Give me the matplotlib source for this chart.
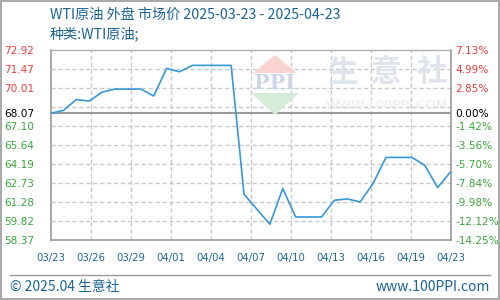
import numpy as np
import matplotlib
matplotlib.use("Agg")
import matplotlib.pyplot as plt
from matplotlib.patches import Rectangle, Polygon
from matplotlib.lines import Line2D

# Daily WTI prices, 2025-03-23 .. 2025-04-23 (one value per calendar day)
prices = [68.07, 68.29, 69.12, 69.00, 69.69, 69.92, 69.92, 69.92, 69.39, 71.50,
          71.24, 71.73, 71.73, 71.73, 71.73, 61.89, 60.74, 59.59, 62.32, 60.15,
          60.15, 60.15, 61.43, 61.53, 61.30, 62.71, 64.70, 64.70, 64.70, 64.11,
          62.40, 63.59]
base_price = 68.07
x_labels = ["03/23", "03/26", "03/29", "04/01", "04/04", "04/07",
            "04/10", "04/13", "04/16", "04/19", "04/23"]
y_ticks = [72.92, 71.47, 70.01, 68.07, 67.10, 65.64, 64.19, 62.73, 61.28, 59.82, 58.37]
y_labels = ["72.92", "71.47", "70.01", "68.07", "67.10", "65.64",
            "64.19", "62.73", "61.28", "59.82", "58.37"]
pct_labels = ["7.13%", "4.99%", "2.85%", "0.00%", "-1.42%", "-3.56%",
              "-5.70%", "-7.84%", "-9.98%", "-12.12%", "-14.25%"]
y_min, y_max = 58.37, 72.92

title = "WTI原油 外盘 市场价 2025-03-23 - 2025-04-23"
subtitle = "种类:WTI原油;"

RED, GREEN, BLACK = "#f03a3a", "#3aa63a", "#000000"
BLUE_TXT = "#1c6496"
LINE = "#3797d8"
GRID = "#c8c8c8"
FRAME = "#9a9a9a"
CJK = ["Noto Sans CJK SC", "DejaVu Sans"]

W, H = 500, 300
fig = plt.figure(figsize=(5, 3), dpi=100)
fig.patch.set_facecolor("white")

left, right, top, bottom = 50.5, 450.5, 49.8, 240.3
ax = fig.add_axes([left / W, 1 - bottom / H, (right - left) / W, (bottom - top) / H])
ax.set_facecolor("none")

n = len(prices)
days = np.arange(n)
ax.set_xlim(0, n - 1)
ax.set_ylim(y_min, y_max)

# dashed grid: ten equal divisions each way
for gy in np.linspace(y_min, y_max, 11)[1:-1]:
    ax.axhline(gy, color=GRID, lw=1, ls=(0, (3, 2)), zorder=1)
xt = np.linspace(0, n - 1, len(x_labels))
for gx in xt[1:-1]:
    ax.axvline(gx, color=GRID, lw=1, ls=(0, (3, 2)), zorder=1)

# base price reference line
ax.axhline(base_price, color=FRAME, lw=1.5, zorder=2)

# watermark
def fx(px):
    return px / W
def fy(py):
    return 1 - py / H
fig.patches.append(Polygon([(fx(253), fy(73)), (fx(297), fy(73)), (fx(275), fy(55))],
                           closed=True, transform=fig.transFigure, facecolor="#f8d3cf",
                           edgecolor="none", zorder=0))
fig.patches.append(Polygon([(fx(251), fy(93)), (fx(299), fy(93)), (fx(275), fy(115))],
                           closed=True, transform=fig.transFigure, facecolor="#d5ecd8",
                           edgecolor="none", zorder=0))
fig.text(fx(275), fy(83), "PPI", fontsize=15, family="DejaVu Serif", fontweight="bold",
         color="#cdd5ea", ha="center", va="center", zorder=0)
for cx, ch in zip([342, 386, 432], "生意社"):
    fig.text(fx(cx), fy(72.5), ch, fontsize=22, family=CJK, fontweight="bold",
             color="#dfe3ec", ha="center", va="center", zorder=0)
fig.text(fx(387), fy(106), "WWW.100PPI.COM", fontsize=9.5, family="DejaVu Sans",
         color="#e6e9f0", ha="center", va="center", zorder=0)

ax.plot(days, prices, color=LINE, lw=1.2, zorder=3)

# frame
for s in ax.spines.values():
    s.set_color(FRAME)
    s.set_linewidth(1.2)
ax.spines["top"].set_color("#b0b0b0")
ax.spines["top"].set_linewidth(1)

# tick labels
ax.set_xticks(xt)
ax.set_xticklabels(x_labels, fontsize=7.3, color=BLUE_TXT, family="DejaVu Sans")
ax.tick_params(axis="x", length=0, pad=9.5)
ax.set_yticks(y_ticks)
ax.set_yticklabels(y_labels, fontsize=7.6, family="DejaVu Sans")
ax.tick_params(axis="y", length=0, pad=11.5)

def level_color(v):
    if v > base_price + 1e-9:
        return RED
    if v < base_price - 1e-9:
        return GREEN
    return BLACK

for lbl, v in zip(ax.get_yticklabels(), y_ticks):
    lbl.set_color(level_color(v))

ax2 = ax.twinx()
ax2.set_ylim(y_min, y_max)
ax2.set_yticks(y_ticks)
ax2.set_yticklabels(pct_labels, fontsize=7.6, family="DejaVu Sans")
ax2.tick_params(axis="y", length=0, pad=3.5)
for lbl, v in zip(ax2.get_yticklabels(), y_ticks):
    lbl.set_color(level_color(v))
for s in ax2.spines.values():
    s.set_visible(False)

# header
fig.text(fx(50), fy(15), title, fontsize=10.2, family=CJK, color=BLUE_TXT,
         ha="left", va="center")
fig.text(fx(50), fy(34), subtitle, fontsize=10.2, family=CJK, color=BLUE_TXT,
         ha="left", va="center")

# footer
fig.lines.append(Line2D([fx(10), fx(490)], [fy(275), fy(275)], transform=fig.transFigure,
                        color=FRAME, lw=1))
fig.text(fx(10), fy(287), "© 2025.04 生意社", fontsize=10, family=CJK, color=BLUE_TXT,
         ha="left", va="center")
fig.text(fx(490), fy(287), "www.100PPI.com", fontsize=10, family=CJK, color=BLUE_TXT,
         ha="right", va="center")

# outer border
fig.patches.append(Rectangle((0.001, 0.002), 0.997, 0.995, transform=fig.transFigure,
                             fill=False, edgecolor=FRAME, lw=1.2))

fig.savefig("out.png", dpi=100)
